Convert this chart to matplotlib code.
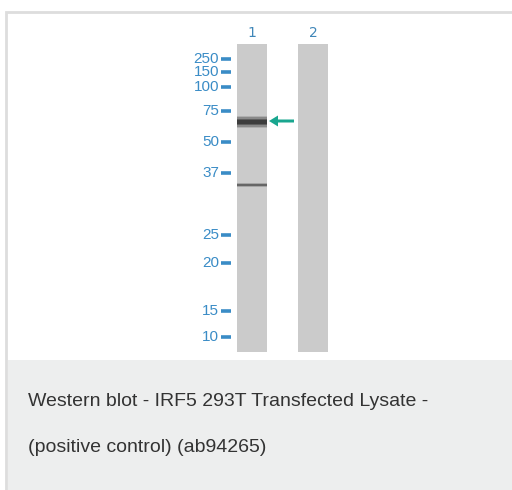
import matplotlib
matplotlib.use('Agg')
from matplotlib import pyplot as plt
from matplotlib.patches import Rectangle, FancyArrow
import numpy as np

# marker ladder (kDa) and where each sits on the blot (pixel row)
marker_labels = ['250', '150', '100', '75', '50', '37', '25', '20', '15', '10']
marker_y = [59, 72, 87, 111, 142, 173, 235, 263, 311, 337]

lane_names = ['1', '2']
lane_x = [237, 298]          # left edge of each lane
lane_w = 30
lane_top, lane_bottom = 44, 352

# bands seen in lane 1: (row, half height, darkness)
band_y = [122, 185]
band_h = [3.5, 1.2]
band_dark = [0.85, 0.45]

caption = ['Western blot - IRF5 293T Transfected Lysate -',
           '(positive control) (ab94265)']

marker_col = '#3a8cc6'
arrow_col = '#19a68f'

fig = plt.figure(figsize=(5.12, 4.90), dpi=100)
ax = fig.add_axes([0, 0, 1, 1])
ax.set_xlim(0, 512)
ax.set_ylim(490, 0)
ax.axis('off')

# frame of the panel
ax.add_patch(Rectangle((6, 12), 510, 480, facecolor='white',
                       edgecolor='#dddddd', linewidth=2))
# caption box
ax.add_patch(Rectangle((8, 360), 504, 130, facecolor='#edeeee',
                       edgecolor='none'))

# lanes
for x in lane_x:
    ax.add_patch(Rectangle((x, lane_top), lane_w, lane_bottom - lane_top,
                           facecolor='#cbcbcb', edgecolor='none'))

for name, x in zip(lane_names, lane_x):
    ax.text(x + lane_w / 2, 33, name, ha='center', va='center',
            fontsize=10, color='#3f86b8', family='DejaVu Sans')

# bands in lane 1, drawn as a few stacked soft strips
for y, h, d in zip(band_y, band_h, band_dark):
    for k, a in zip([1.7, 1.3, 0.9, 0.5], [0.2, 0.35, 0.55, 0.8]):
        ax.add_patch(Rectangle((lane_x[0], y - h * k), lane_w, 2 * h * k,
                               facecolor=(0.18, 0.18, 0.18), alpha=a * d,
                               edgecolor='none'))

# marker labels and dashes
for lab, y in zip(marker_labels, marker_y):
    ax.text(219, y, lab, ha='right', va='center', fontsize=11,
            color=marker_col, family='Liberation Sans')
    ax.plot([221, 231], [y, y], color=marker_col, lw=2.6,
            solid_capstyle='butt')

# arrow pointing at the band
ax.add_patch(FancyArrow(294, band_y[0] - 1, -25, 0, width=3,
                        head_width=11, head_length=9,
                        length_includes_head=True, color=arrow_col, lw=0))

for i, line in enumerate(caption):
    ax.text(28, 401 + 46 * i, line, ha='left', va='center', fontsize=14,
            color='#333333', family='Liberation Sans')

fig.savefig('out.png', dpi=100)
